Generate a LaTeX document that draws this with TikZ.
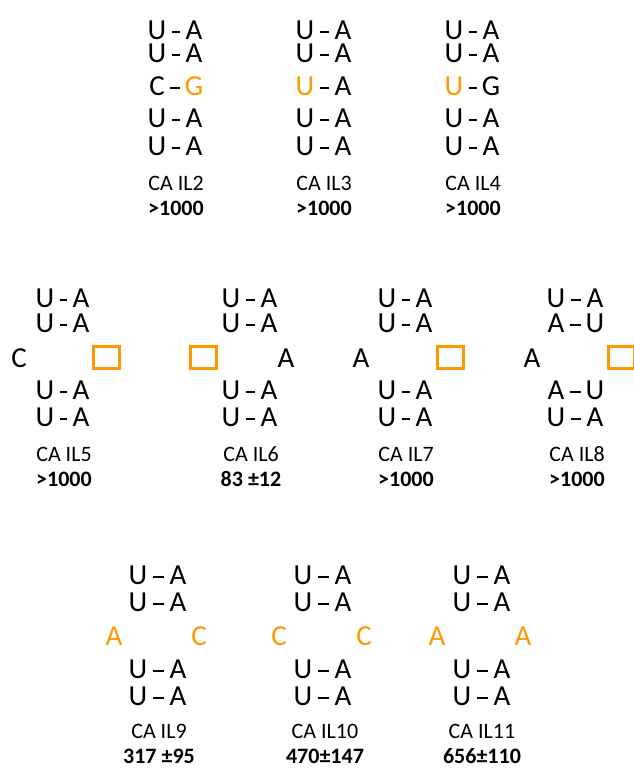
\documentclass[tikz,border=0pt]{standalone}
\usepackage{fontspec}
\setmainfont{Carlito}
\usepackage{tikz}
\definecolor{ilorange}{RGB}{255,153,0}

\begin{document}
\begin{tikzpicture}[x=1pt, y=-1pt,
  base/.style={inner sep=0pt, font=\fontsize{29}{29}\selectfont},
  hit/.style={base, text=ilorange},
  bond/.style={line width=1.1pt, shorten <=5pt, shorten >=5pt, transform canvas={yshift=-2pt}},
  gap/.style={draw=ilorange, line width=3pt, minimum width=26pt, minimum height=22pt, inner sep=0pt},
  cname/.style={inner sep=0pt, font=\fontsize{22}{22}\selectfont},
  kd/.style={inner sep=0pt, font=\fontsize{22}{22}\selectfont\bfseries}]
\useasboundingbox (0,0) rectangle (633,768);
% row 1
\foreach \g/\xl/\xr in {two/157/194, three/305/343, four/454/491}{
  \foreach \i/\y in {1/30, 2/53, 4/118, 5/146}{
    \node[base] (\g l\i) at (\xl,\y) {U};
    \node[base] (\g r\i) at (\xr,\y) {A};
    \draw[bond] (\g l\i) -- (\g r\i);
  }
}
\node[base] (twol3) at (157,86) {C};
\node[hit] (twor3) at (194,86) {G};
\draw[bond] (twol3) -- (twor3);
\node[hit] (threel3) at (305,86) {U};
\node[base] (threer3) at (343,86) {A};
\draw[bond] (threel3) -- (threer3);
\node[hit] (fourl3) at (454,86) {U};
\node[base] (fourr3) at (491,86) {G};
\draw[bond] (fourl3) -- (fourr3);
\node[cname] (twoname) at (176,183) {CA IL2};
\node[kd] (twokd) at (176,208) {>1000};
\node[cname] (threename) at (324,183) {CA IL3};
\node[kd] (threekd) at (324,208) {>1000};
\node[cname] (fourname) at (473,183) {CA IL4};
\node[kd] (fourkd) at (473,208) {>1000};
% row 2
\foreach \g/\xl/\xr in {five/45/81, six/231/269, seven/387/424}{
  \foreach \i/\y in {1/298, 2/323, 4/390, 5/417}{
    \node[base] (\g l\i) at (\xl,\y) {U};
    \node[base] (\g r\i) at (\xr,\y) {A};
    \draw[bond] (\g l\i) -- (\g r\i);
  }
}
\foreach \i/\y/\p/\q in {1/298/U/A, 2/323/A/U, 4/390/A/U, 5/417/U/A}{
  \node[base] (eightl\i) at (556,\y) {\p};
  \node[base] (eightr\i) at (595,\y) {\q};
  \draw[bond] (eightl\i) -- (eightr\i);
}
\node[base] (fivel3) at (19,358) {C};
\node[gap] (fiver3) at (106,357) {};
\node[gap] (sixl3) at (203.5,357.5) {};
\node[base] (sixr3) at (286,358) {A};
\node[base] (sevenl3) at (361,358) {A};
\node[gap] (sevenr3) at (450,357) {};
\node[base] (eightl3) at (532,358) {A};
\node[gap] (eightr3) at (621.5,357) {};
\node[cname] (fivename) at (64,454) {CA IL5};
\node[kd] (fivekd) at (64,479) {>1000};
\node[cname] (sixname) at (251,454) {CA IL6};
\node[kd] (sixkd) at (251,479) {83 ±12};
\node[cname] (sevenname) at (406,454) {CA IL7};
\node[kd] (sevenkd) at (406,479) {>1000};
\node[cname] (eightname) at (577,454) {CA IL8};
\node[kd] (eightkd) at (577,479) {>1000};
% row 3
\foreach \g/\xl/\xr in {nine/138/178, ten/303/343, eleven/462/502}{
  \foreach \i/\y in {1/575, 2/602, 4/669, 5/696}{
    \node[base] (\g l\i) at (\xl,\y) {U};
    \node[base] (\g r\i) at (\xr,\y) {A};
    \draw[bond] (\g l\i) -- (\g r\i);
  }
}
\node[hit] (ninel3) at (114,636) {A};
\node[hit] (niner3) at (199,636) {C};
\node[hit] (tenl3) at (279,636) {C};
\node[hit] (tenr3) at (364,636) {C};
\node[hit] (elevenl3) at (437,636) {A};
\node[hit] (elevenr3) at (523,636) {A};
\node[cname] (ninename) at (159,731) {CA IL9};
\node[kd] (ninekd) at (159,756) {317 ±95};
\node[cname] (tenname) at (325,731) {CA IL10};
\node[kd] (tenkd) at (325,756) {470±147};
\node[cname] (elevenname) at (482,731) {CA IL11};
\node[kd] (elevenkd) at (482,756) {656±110};
\end{tikzpicture}
\end{document}
